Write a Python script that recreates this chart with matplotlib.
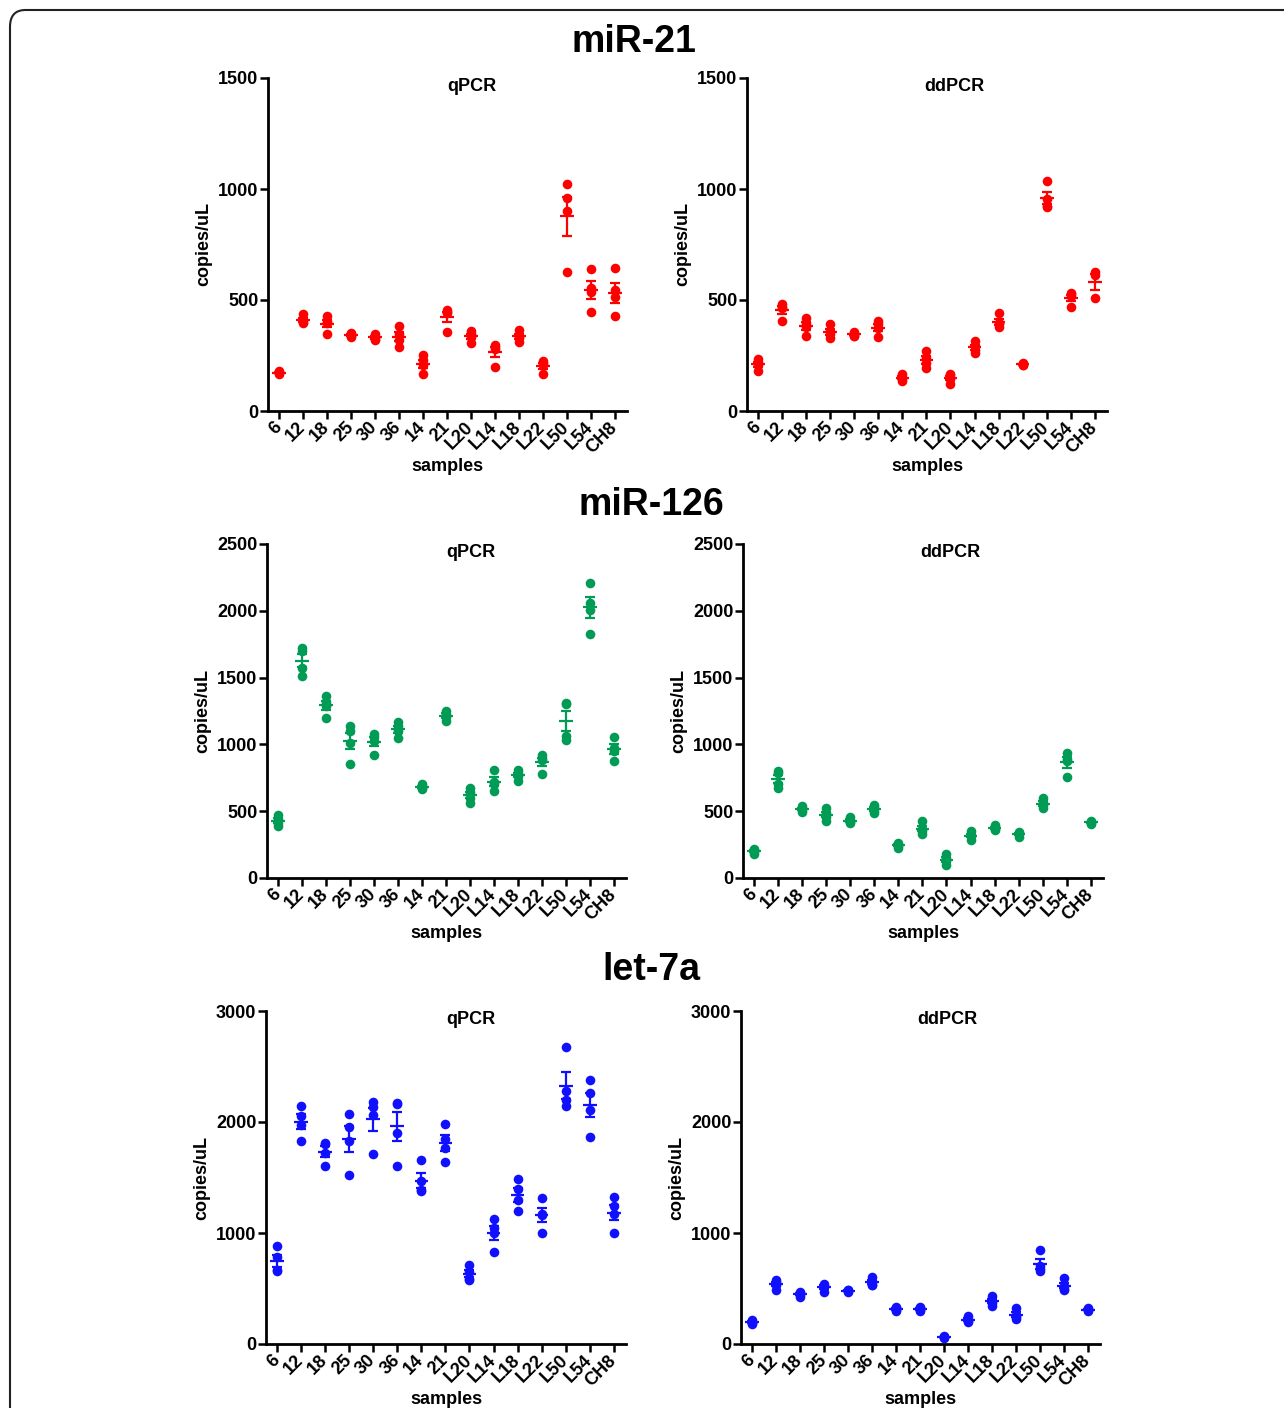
# miRNA copies/uL: qPCR vs ddPCR dot plots (mean +/- SEM)

import numpy as np
import matplotlib.pyplot as plt
from matplotlib.patches import FancyBboxPatch

samples = ["6", "12", "18", "25", "30", "36", "14", "21",
           "L20", "L14", "L18", "L22", "L50", "L54", "CH8"]

# replicate values per sample
mir21_qpcr = [
    [180, 170, 165, 175], [437, 410, 400, 395], [428, 405, 395, 346],
    [350, 345, 335, 338], [345, 335, 325, 320], [385, 345, 320, 287],
    [251, 230, 205, 165], [455, 445, 440, 355], [360, 345, 335, 305],
    [298, 290, 280, 200], [365, 340, 330, 310], [227, 215, 205, 165],
    [1022, 960, 900, 625], [640, 555, 535, 445], [646, 545, 515, 428],
]
mir21_ddpcr = [
    [234, 220, 205, 181], [484, 470, 465, 405], [420, 395, 380, 337],
    [394, 360, 345, 331], [355, 348, 340, 337], [405, 390, 375, 334],
    [165, 155, 145, 135], [270, 240, 215, 195], [165, 160, 145, 120],
    [315, 295, 275, 260], [442, 395, 390, 380], [215, 210, 208, 205],
    [1035, 955, 925, 920], [530, 525, 518, 467], [625, 612, 508],
]
mir126_qpcr = [
    [470, 440, 415, 388], [1720, 1700, 1570, 1515], [1360, 1320, 1290, 1195],
    [1137, 1100, 1012, 852], [1077, 1055, 1027, 920], [1170, 1140, 1100, 1050],
    [700, 690, 675, 665], [1252, 1230, 1205, 1175], [675, 640, 600, 565],
    [812, 720, 705, 652], [807, 785, 765, 725], [917, 895, 880, 777],
    [1307, 1300, 1062, 1032], [2207, 2062, 2007, 1827], [1052, 975, 950, 875],
]
mir126_ddpcr = [
    [220, 210, 195, 182], [802, 787, 707, 675], [540, 525, 510, 495],
    [525, 490, 460, 425], [455, 435, 420, 410], [545, 530, 505, 490],
    [265, 250, 240, 225], [425, 370, 355, 330], [177, 150, 125, 95],
    [350, 320, 315, 285], [395, 385, 370, 360], [345, 340, 330, 310],
    [600, 560, 545, 525], [937, 890, 875, 757], [430, 420, 410, 405],
]
let7a_qpcr = [
    [879, 780, 665, 655], [2145, 2055, 1975, 1830], [1815, 1800, 1720, 1600],
    [2070, 1953, 1833, 1524], [2178, 2139, 2064, 1713], [2170, 2160, 1905, 1608],
    [1659, 1470, 1385, 1374], [1980, 1845, 1770, 1644], [714, 645, 590, 580],
    [1125, 1044, 999, 828], [1488, 1395, 1299, 1200], [1314, 1170, 1160, 1000],
    [2679, 2280, 2199, 2145], [2379, 2259, 2109, 1863], [1320, 1245, 1173, 999],
]
let7a_ddpcr = [
    [220, 200, 185, 180], [580, 560, 535, 485], [470, 455, 445, 420],
    [545, 525, 510, 470], [490, 485, 478, 470], [605, 555, 535, 530],
    [330, 320, 310, 300], [335, 320, 305, 295], [70, 65, 60, 58],
    [250, 225, 205, 195], [435, 390, 370, 345], [324, 265, 245, 222],
    [849, 700, 675, 655], [594, 525, 500, 483], [325, 312, 305, 295],
]

row_titles = ["miR-21", "miR-126", "let-7a"]
row_colors = ["#ff0000", "#009b55", "#1010ff"]
row_ymax = [1500, 2500, 3000]
row_ystep = [500, 500, 1000]

FONT = "Liberation Sans"
W, H = 1284, 1408


def px_axes(fig, x0, x1, ytop, ybot):
    return fig.add_axes([x0 / W, 1 - ybot / H, (x1 - x0) / W, (ybot - ytop) / H])


def draw_panel(ax, groups, color, ymax, ystep, title, tx):
    x = np.arange(len(samples))
    for i, vals in enumerate(groups):
        v = np.array(vals, dtype=float)
        m = v.mean()
        sem = v.std(ddof=1) / np.sqrt(len(v))
        ax.scatter(np.full(len(v), i), v, s=48, color=color, zorder=2,
                   linewidths=0)
        ax.hlines(m, i - 0.28, i + 0.28, color=color, lw=1.6, zorder=3)
        ax.errorbar(i, m, yerr=sem, fmt="none", ecolor=color, elinewidth=1.6,
                    capsize=3.5, capthick=1.6, zorder=3)

    ax.set_xlim(-0.45, 14.5)
    ax.set_ylim(0, ymax)
    ax.set_yticks(np.arange(0, ymax + 1, ystep))
    ax.set_xticks(x)
    ax.set_xticklabels(samples, rotation=45, ha="right", va="center",
                       rotation_mode="anchor")
    for lab in ax.get_xticklabels() + ax.get_yticklabels():
        lab.set_fontfamily(FONT)
        lab.set_fontweight("bold")
        lab.set_fontsize(13)
    ax.tick_params(axis="both", direction="out", length=6, width=1.8)
    ax.tick_params(axis="y", pad=1)
    ax.tick_params(axis="x", pad=4)
    for side in ["top", "right"]:
        ax.spines[side].set_visible(False)
    for side in ["left", "bottom"]:
        ax.spines[side].set_linewidth(2)
    ax.set_ylabel("copies/uL", fontfamily=FONT, fontweight="bold",
                  fontsize=13, labelpad=4)
    ax.set_xlabel("samples", fontfamily=FONT, fontweight="bold",
                  fontsize=13, labelpad=1)
    ax.text(tx, 0.975, title, transform=ax.transAxes, ha="center",
            va="center", fontfamily=FONT, fontweight="bold", fontsize=13)
    ax.patch.set_alpha(0)


def main():
    fig = plt.figure(figsize=(W / 100, H / 100), dpi=100)

    # rounded frame around the whole figure
    frame = FancyBboxPatch((10 / W, -0.05), 1.05, 1.05 - 10 / H,
                           boxstyle="round,pad=0,rounding_size=0.012",
                           transform=fig.transFigure, fill=False,
                           edgecolor="#222222", lw=1.5)
    fig.patches.append(frame)

    data = [(mir21_qpcr, mir21_ddpcr), (mir126_qpcr, mir126_ddpcr),
            (let7a_qpcr, let7a_ddpcr)]
    boxes = [
        ((268, 627, 78, 411), (747, 1107, 78, 411)),
        ((267, 626, 544, 878), (743, 1103, 544, 878)),
        ((266, 626, 1011, 1344), (741, 1100, 1011, 1344)),
    ]
    title_y = [42, 505, 970]
    title_x = [634, 651, 651]

    for r in range(3):
        q, d = data[r]
        axq = px_axes(fig, *boxes[r][0])
        axd = px_axes(fig, *boxes[r][1])
        draw_panel(axq, q, row_colors[r], row_ymax[r], row_ystep[r],
                   "qPCR", 0.568)
        draw_panel(axd, d, row_colors[r], row_ymax[r], row_ystep[r],
                   "ddPCR", 0.575)
        fig.text(title_x[r] / W, 1 - title_y[r] / H, row_titles[r],
                 ha="center", va="center", fontfamily=FONT,
                 fontweight="bold", fontsize=27)

    fig.savefig("out.png", dpi=100)
    plt.close(fig)


if __name__ == "__main__":
    main()
